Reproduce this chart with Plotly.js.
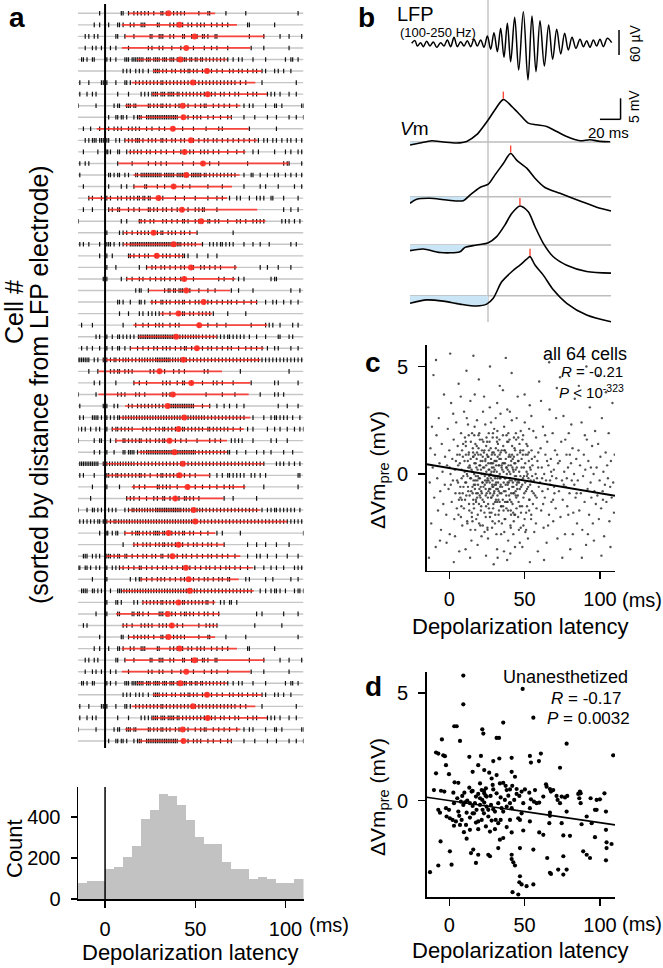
<!DOCTYPE html>
<html><head><meta charset="utf-8">
<script src="https://cdn.plot.ly/plotly-3.0.1.min.js"></script>
<style>html,body{margin:0;padding:0;background:#fff}#g{width:663px;height:968px}</style>
</head><body><div id="g"></div><script>
const FONT='"Liberation Sans", Arial, sans-serif';
const W=663,H=968;
const PX=v=>v/W, PY=v=>1-v/H;

// ---------- panel a: raster (spike latencies, ms) ----------
const spikeRows=[
[-3,9,10,13,16,18,20,22,24,27,31,32,34,38,40,42,44,52,57,58,67,78,107],
[-6,-3,2,7,8,10,14,16,20,21,22,29,30,36,38,40,43,46,48,51,53,55,59,62,65,68,79,80,94],
[-11,-9,-6,-4,6,7,11,16,25,26,30,31,32,36,38,43,44,48,51,54,55,57,61,62,80,88,97,102,109],
[-11,-7,-5,-2,3,6,13,24,26,30,32,37,42,49,55,59,62,68,81,88,102],
[-13,-12,-10,-7,-6,1,3,6,11,12,13,15,16,17,18,19,20,21,23,24,25,27,28,29,30,32,33,34,36,37,38,40,41,43,44,45,47,48,50,51,53,54,56,58,60,62,64,66,68,71,74,76,82,89,100,103,104,107],
[10,12,14,17,19,21,24,27,28,29,30,32,34,37,39,42,44,46,47,49,51,54,56,57,59,62,65,69,71,74,76,79,82,84,87,89,94,96,99,103],
[-14,-9,-2,-1,1,6,11,12,14,17,19,21,23,25,27,29,31,32,34,36,38,40,42,44,46,48,50,52,54,56,58,60,62,64,66,68,70,72,75,78,87,106],
[-14,-10,-7,-5,7,13,20,22,24,26,27,28,29,31,32,33,35,36,37,38,40,41,43,45,47,49,51,53,55,57,59,61,64,66,69,72,74,79,82,84,90,92,94,97,102,106],
[-15,-5,5,7,8,12,13,14,16,17,24,25,27,29,31,32,34,36,39,41,44,46,50,53,55,56,60,63,66,69,73,77,80,82,89,94,95,98,109,110],
[2,6,7,9,10,12,16,18,19,20,23,24,25,26,27,28,29,30,31,32,33,34,35,36,37,38,39,40,43,46,49,51,53,57,60,64,68,70,77,83,90,95,102,106,110],
[-12,-8,-3,2,5,7,9,13,15,17,19,23,26,30,33,38,43,49,56,63,65,80,95],
[-11,-9,-7,-6,-5,-3,-2,-1,1,2,6,8,11,13,15,17,18,19,21,24,26,28,31,32,34,37,39,42,44,47,49,52,55,57,60,62,65,68,71,74,77,80,83,85,88,90,93,95,98,101,103,106,109],
[-12,-4,1,1.5,3,7,8,12,14,16,18,20,23,25,28,31,34,38,42,44,47,49,53,55,57,60,63,68,73,77,82,85,94,100,103,107,109],
[-14,-11,-9,7,15,24,28,31,34,43,49,54,58,63,79,99,101,102,109],
[-14,2,3,5,7,8,11,13,17,18,20,21,22,23,24,25,26,27,28,29,30,31,33,34,35,36,37,38,40,41,42,43,44,45,46,48,49,50,51,52,53,55,56,58,60,62,64,66,68,70,72,77,81,82,86,90,94,96,100,103,106,109],
[-12,2,9,12,16,22,23,29,33,38,43,47,57,65,77,86,89,96,105,109],
[-9,-7,-2,1,3,7,9,12,14,16,18,19,21,22,24,25,30,32,39,44,50,57,62,65,69,73,75,80,84,86,88,92,93,99,107],
[-12,-7,2,4,7,8,13,16,19,24,25,27,29,32,34,37,40,43,46,50,52,54,55,62,99,103,107],
[-15,9,12,19,20,22,25,27,32,34,37,40,43,44,46,50,52,54,57,58,61,63,68,73,75,78,82,84,86,88,98,100,102,105,108],
[1,8,10,12,15,18,20,22,24,27,29,31,32,35,37,39,42,44,47,51,71],
[-14,-12,-9,-3,1,2,3,5,8,10,12,14,15,16,17,18,19,20,21,22,23,24,25,26,27,28,29,30,31,32,33,34,35,36,37,38,39,40,41,42,44,46,48,50,54,58,60,62,64,65,67,69,71,77,82,86,91,103,106],
[-3,1,4,13,14,16,19,22,24,28,29,32,34,36,39,41,43,44,46,51,57,62],
[1,6,19,23,26,28,31,33,36,39,42,44,48,49,53,55,58,61,64,72,86,90,96,103],
[-1,1,9,12,15,19,21,25,28,31,33,36,39,42,44,49,63,66,71,74,77,92,94,95],
[17,19,20,24,33,35,36,38,39,41,42,43,45,47,52,57,61,70,74,82,103,108],
[7,8,10,14,19,20,22,26,28,31,32,34,36,39,41,43,44,47,50,52,55,57,59,62,65,68,70,73,77,81,84,89,93,95,99,103,107],
[8,13,19,21,24,26,28,30,32,36,41,43,44,47,49,52,54,56,58,60,68,78],
[-13,-7,10,17,21,24,28,30,32,36,39,41,52,57,62,67,81,89,91,93,97,104,107],
[-5,-3,1,4,7,8,10,12,14,16,18.5,19.5,20.5,21.5,22.5,23.5,24.5,25.5,26.5,27.5,28.5,29.5,30.5,31.5,32.5,33.5,34.5,35.5,36.5,37.5,38.5,40,41.5,43,44.5,46,47.5,49,50.5,52,54,56,58,60,62,64,66,68,69,71,73,75,77,80,84,89,96,97,102,104],
[-13,-10,-7,-3,1,4,7,8,11,14,18,21,24,27,29,32,34,36,39,42,44,45,48,51,54,57,59,62,65,68,70,74,78,81,84,87,90,94,96,103,107],
[-15,-14,-13,-12,-11,-10,-9,-6,-4,-1,1,3,5,6,8,10,11.5,13,15,17,19,20.5,22,23.5,25,26.5,28,29,30,31,32,33,34,35,36,37.5,39,40.5,42,43.5,45,47,49,51,53,55,57,59,61,63,65,67,69,71,73,75,77,79,81,83,85,87,89,91,93,95,97,99,101,103,105,107,109],
[-9,-4,3,5,7,8,11,13,15,25,27,30,33,38,41,44,55,57,75,102],
[-6,-3,6,16,19,23,32,34,36,40,43,44,48,54,60,62,65,71,81,94,96,107],
[-15,-5,7,9,11,17,19,22,32,34,36,38,56,65,72,86,94,96,99],
[-14,-1,0,1,5,7,13,15,18,20,22,24,26,28,30,32,35,36,37,38,39,40,41,42,43,44,45,46,47,48,49,54,58,62,66,69,73,77,96,101,107],
[-14,-12,-7,-6,-5,-4,-2,0,1,3,5,7,8,10,11.5,13,14.5,16,17.5,19,20.5,22,23.5,25,26.5,28,29.5,31,32.5,34,35.5,37,38.5,40,41.5,43,44.5,46,47.5,49,50.5,52,53.5,55,57,59,61,63,65,67,69,71,73,75,77,82,88,92,94,95,97,99,101,104,108],
[-15,-13,-11,-8,-5,-3,1,4,6,7,9,11,13,15,21,23,25,28,30,32,33,35,37,39,41,43,44,46,48,50,52,54,57,58,60,62,64,66,68,71,75,79,82,90,94,97,101,105,108,110],
[-15,-6,-3,-2,3,6,10,11,13,15,17,19,20,23,25,28,30,32,33,36,39,42,45,51,58,61,64,70,72,74,76,82,92,95,101],
[-6,-3,1,5,10,11,13,14,15,16,18,20,21.5,23,24,25,26,27,28,29,30,31,32,33,34,35,36,37,38,39,40,41,42,43,44,45,46,47,48,49,50,52,54,56,58,60,62,64,66,68,69,73,78,84,88,92,99,104],
[-14,-13,-12,-11,-10,-9,-8,-7,-6,-5,-4,-1,1,2.5,4,5.5,7,8.5,10,11.5,13,14.5,16,18,20,22,24,26,28,30,32,34,36,38,40,42,44,46,48,50,52,54,56,58,60,62,64,66,68,70,72,74,76,78,80,82,84,86,88,95,97,99,102,105,108],
[-14,-12,-6,1,2,4,6,7,9,11,13,15,17,19,20,22,25,29,31,32,34,36,38,40,41,44,47,50,58,62,65,68,69,71,73,75,77,81,83,86,89,107,108],
[-7,1,8,16,19,22,29,30,32,34,36,40,46,50,54,58,62,66,69,71,77,88,107],
[-8,12,14,16,19,23,27,29,32,33,36,39,41,44,45,47,49,52,66,71,84],
[-15,-10,-7,-6,-4,-2,0,2,4,6,11,13,15,16,17.5,19,20.5,22,23.5,25,26.5,28,29,30,31,32,33,34,35,36,37,38,39,40,41,42,43.5,45,46.5,48,49.5,51,52.5,54,56,58,60,62,64,66,68,70,72,74,76,78,80,82,84,87,90,92,94,95,97,99,101,103,105,108],
[-14,-12,-10,-8,-6,-4,-3,-1,1,3,5,6,7.5,9,10.5,12,13.5,15,16.5,18,19.5,21,22.5,24,25.5,27,28.5,30,31.5,33,34.5,36,37.5,39,40.5,42,43.5,45,46.5,48,49.5,51,53,55,57,59,61,63,65,67,69,71,73,75,77,79,81,83,85,87,89,91,93,95,97,99,101,103,105,107,109],
[-3,1,1.5,4,6,7,11,15,17,18,19,21,23,25,27,28,29,30,32,33,35,37,39,41,43,44,47,49,53,57,62,65,75,110],
[10,16,18,21,23,25,28,30,32,33,35,37,39,41,43,46,49,51,54,57,59,62,66,79,84,89,95,102],
[-12,-11,-10,-7,-5,-3,1,2,3,5,7,8,11,12,15,18,21,23,26,28,31,32,35,37,40,43,45,48,51,54,57,59,62,65,68,72,79,84,86,90,95,101,107],
[-15,-14,-11,-10,-8,-5,-3,1,4,6,8,10,13,16,19,20,23,26,29,32,34,37,40,43,45,47,50,53,56,58,61,64,67,69,72,75,79,83,88,92,95,99,105,107,109],
[-7,1,14,17,19,20,23,26,29,31,33,36,39,42,44,47,49,52,55,57,60,63,65,68,69,78,80,89,93,103,107],
[-13,-12,-11,-10,-7,-6,-4,-2,3,7,8,9,10.5,12,13.5,15,16.5,18,19.5,21,22.5,24,25.5,27,28.5,30,31.5,33,34.5,36,37.5,39,40.5,42,43.5,45,46.5,48,49.5,51,53,55,57,59,61,63,65,67,69,71,73,75,77,79,81,86,89,92,94,95,97,100,105,107,108,110],
[1,6,7,9,16,18,21,23,25,27,29,31,32,34,36,38,41,43,44,46,48,50,52,54,56,57,60,64,66,69,70,73],
[-5,1,7,8,15,16,18,19,21,24,30,31,32,34,37,39,42,44,45,47,49,52,55,57,60,63,84,87,99,107],
[-12,-10,10,12,15,20,22,24,26,30,32,34,37,40,43,52,56,58,60,62,83,98]
];
const redStart=[13,9.3,11,9.3,17.6,26.5,14.8,25.9,11.1,18.5,-4.6,11.1,13,7.4,15.7,15.7,-9.3,1.9,18.5,10.2,10.2,13,23.1,11.7,24.1,25,30.6,15.7,18.5,13.9,-0.9,-3.7,15.7,-3.7,11.1,8.3,3.7,5.6,18.5,-0.9,0.9,14.8,12,13,0.9,10.6,15.4,0.6,8,19.4,9.3,20.4,6.1,9.3];
const redEnd=[61,73.1,88.5,80.6,67.6,87,83.3,89.8,75,70.4,79.6,84.3,77.8,101.9,74.6,70.4,67.6,84.3,88.9,50.9,53.7,43.5,73.1,72.2,69.4,84.3,59.3,89.8,62,87.9,86.1,64.8,80.6,79.6,58.3,80.6,76.9,67.6,67.6,87.9,58.3,77.8,65.7,86.1,100.9,61.1,66.1,75,81.9,74.1,82.4,61.1,63.5,62.4];
const redDot=[35.2,41.3,49.6,45,41.7,56.5,48.7,56.9,43,43.5,37.6,47.6,44.1,54.3,45,38,29.6,42.6,53.3,26.9,38,28.7,47.6,43.9,45,54.6,40.7,52.2,39.4,50.9,43.5,30.2,47.8,37.6,34.6,43.9,40.7,35.7,38.5,43.1,41.3,45.7,38.9,49.1,50,35.2,40.7,37.4,44.8,46.3,46.9,40.7,34.8,37];
// cells 55-64 in the figure repeat cells 1-10
const repeatOf=[0,1,2,3,4,5,6,7,8,9];
const rasterRows=spikeRows.concat(repeatOf.map(i=>spikeRows[i]));
const rStart=redStart.concat(repeatOf.map(i=>redStart[i]));
const rEnd=redEnd.concat(repeatOf.map(i=>redEnd[i]));
const rDot=redDot.concat(repeatOf.map(i=>redDot[i]));

// ---------- panel a: histogram ----------
const histBinStart=[-15,-10,-5,0,5,10,15,20,25,30,35,40,45,50,55,60,65,70,75,80,85,90,95,100,105];
const histCount=[78,88,86,144,154,203,258,392,434,514,501,460,387,300,267,267,181,147,147,96,109,96,80,80,99];

// ---------- panel b ----------
const lfpT=[-74.1,-70.9,-68.6,-65.4,-62.8,-59.5,-56.3,-53.1,-49.8,-46,-42.7,-39.5,-36.2,-33,-29.8,-26.5,-23.3,-20.1,-16.8,-13.6,-10.4,-7.1,-3.9,-0.6,2.6,5.8,9.1,12.3,15.5,18.8,22,25.9,29.8,34.3,38.8,42.7,46.6,50.5,54.7,58.9,62.8,66.7,70.6,74.4,78,81.6,85.4,89.3,92.6,95.8,99,102.3,105.5,108.7,112,115.9,120.1];
const lfpV=[0,6.4,-6.4,1.6,-8,4.8,-6.4,3.2,-9.6,1.6,-6.4,8,-8,14.4,-8,4,-6.4,6.4,-8,9.6,-6.4,8,-9.6,17.6,-14.4,25.6,-20,36,-33.6,48,-44,62.4,-64,76,-88,65.6,-68,54.4,-54.4,44,-38.4,33.6,-25.6,24,-16,14.4,-12,9.6,-8,6.4,-9.6,8,-6.4,9.6,-8,12,1.6];
const vmT=[
[-75.7,-66,-54.7,-43.4,-30.4,-20.7,-11,-4.5,0.3,6.8,14.9,23,31,39.1,47.3,57,66.7,76.4,89.3,99,108.7,118.4],
[-75.7,-69.2,-56.3,-40.1,-24,-17.5,-7.8,0.3,6.8,14.9,22,27.8,37.6,45.6,55.3,69.9,89.3,105.5,119.4],
[-75.7,-62.8,-46.6,-27.2,-22.3,-11,0.3,8.4,16.5,23,31,39.1,45.6,53.7,63.4,76.4,95.8,119.4],
[-75.7,-59.5,-43.4,-27.2,-11,-1.3,5.1,13.3,23,31,37.6,40.8,45.6,53.7,63.4,76.4,95.8,119.4]];
const vmV=[
[-0.7,-0.24,0.31,0,-0.24,0.14,1.74,3.7,5.3,7.7,10.1,8.5,6.5,4.5,4.1,3.7,2.5,1.3,0.3,0.55,0.14,0.07],
[-1.57,-0.62,-0.38,-0.79,-0.95,0.4,2.2,3,5.2,7.9,10.3,8.7,6.8,4.4,2.2,0.8,-1.0,-2.5,-3.4],
[-1.35,-0.95,-1.8,-1.6,-0.56,0,0.56,2,4.8,7.5,9.3,7.9,4.4,0.4,-2.8,-4.8,-6.3,-6.7],
[-1.8,-1.0,-1.3,-2.0,-2.45,-2.0,-0.63,3.3,5.7,7.3,8.7,9.3,7.3,4.9,1.4,-1.8,-4.6,-6.2]];
const vmPeakT=[14.9,22,31,40.8];
const vmPeakV=[10.1,10.3,9.3,9.3];

// ---------- panel c: all 64 cells ----------
const cPoints=[[-14,3.1],[-13,-0.4],[-12.5,1.2],[-12,-2.3],[-11,0.3],[-10.5,4.6],[-10,-1.1],[-9.5,0.9],[-9,-3.4],[-8.5,1.8],[-8,-0.2],[-7.5,-1.7],[-7,2.6],[-6.5,0.5],[-6,-0.8],[-5.5,-2.6],[-5,1.4],[-4.5,0.1],[-4,-1.4],[-3.5,3.7],[-3,-0.5],[-2.8,0.8],[-13.5,-3.9],[-11.5,2.2],[-8.8,5.3],[-6.2,-3.1],
[-2,-1.9],[-1.5,0.4],[-1,2.1],[-0.5,-0.7],[0,1.1],[0.3,-2.8],[0.8,0],[1.2,3.3],[1.6,-1.3],[2,0.7],[2.4,-0.3],[2.9,1.6],[3.3,-2.1],[3.7,0.2],[4.1,-0.9],[4.6,2.4],[5,-1.6],[5.3,0.9],[5.8,-0.4],[6.2,4.2],[6.6,-3.6],[7,0.5],[7.4,-1.1],[7.8,1.9],[8.2,-0.2],[8.6,-2.4],[9,0.8],[9.4,-0.6],[9.8,2.9],[0.6,5.6],[3,-4.1],[5.6,1.3],[8,-1.5],[1,-0.5],[4.4,0.6],[6.8,-0.9],[2.6,2.8],[9.2,1.4],[-1.8,-3.2],[7.6,3.6],[3.8,-2.9],[0.2,0.3],
[10.2,0.1],[10.5,-1.2],[10.9,1.5],[11.2,-0.4],[11.6,2.6],[11.9,-2.2],[12.3,0.6],[12.6,-0.8],[13,1],[13.3,-1.7],[13.7,0.3],[14,3.4],[14.4,-0.2],[14.7,-3.1],[15.1,1.9],[15.4,-0.6],[15.8,0.8],[16.1,-1.4],[16.5,0],[16.8,2.2],[17.2,-2.6],[17.5,0.5],[17.9,-0.9],[18.2,1.3],[18.6,-0.3],[18.9,-1.9],[19.3,0.9],[19.6,4.4],[20,-0.7],[20.3,1.6],[20.7,-1.1],[21,0.2],[21.4,-2.9],[21.7,1.1],[22.1,-0.4],[22.4,2.9],[10.8,-3.5],[11.4,4.8],[12.1,-0.1],[12.9,1.8],[13.5,-1],[14.2,0.7],[15,-2],[15.6,1.2],[16.3,-0.5],[17,0.9],[17.7,-1.2],[18.4,2.5],[19,-0.1],[19.8,-2.3],[20.5,0.4],[21.2,-1.5],[22,0.6],[13.8,-3.9],[16.9,3.7],[18.8,-3.3],[21.6,-0.9],[11,0.9],[14.8,0.2],[17.3,-0.3],[19.4,1.8],[20.9,-0.6],[12.4,2.3],[16,5.5],[22.2,-2.4],
[22.7,0],[23,-1.3],[23.3,1.1],[23.6,-0.5],[23.9,2.3],[24.2,-2],[24.5,0.4],[24.8,-0.9],[25.1,1.5],[25.4,-0.2],[25.7,-3],[26,0.8],[26.3,-1.6],[26.6,0.2],[26.9,3.1],[27.2,-0.7],[27.5,1.2],[27.8,-1.1],[28.1,0.5],[28.4,-2.5],[28.7,-0.3],[29,1.9],[29.3,-1.4],[29.6,0.1],[29.9,-0.8],[30.2,0.9],[30.5,-1.9],[30.8,2.6],[31.1,-0.4],[31.4,0.6],[31.7,-3.5],[32,-1],[32.3,1.4],[32.6,-0.1],[32.9,-2.2],[33.2,0.7],[33.5,4.1],[33.8,-0.6],[34.1,1],[34.4,-1.5],[34.7,0.3],[23.1,3.6],[23.8,-0.3],[24.4,-3.8],[25,0.9],[25.6,-1.1],[26.2,1.9],[26.8,-0.4],[27.4,0],[28,-1.8],[28.6,1],[29.2,-0.6],[29.8,2.1],[30.4,-0.2],[31,-1.2],[31.6,1.7],[32.2,-0.7],[32.8,0.4],[33.4,-1.3],[34,2.8],[34.6,-0.9],[24,0.7],[25.3,-2.5],[26.5,-0.1],[27.7,2.4],[28.9,-1],[30,-0.5],[31.3,-2.8],[32.5,1.1],[33.7,-0.2],[34.9,-2.3],[27,5],[29.5,-4.2],[31.8,3.3],[24.7,1.7],[33,-1.7],[26,-0.8],[28.3,0.3],[30.7,0.6],[32.1,-3.9],
[35.2,0.2],[35.5,-1.2],[35.8,1.3],[36.1,-0.4],[36.4,2.2],[36.7,-2.1],[37,0.5],[37.3,-0.8],[37.6,1],[37.9,-1.6],[38.2,0],[38.5,3],[38.8,-0.5],[39.1,-3.1],[39.4,0.8],[39.7,-1],[40,1.6],[40.3,-0.2],[40.6,-2.4],[40.9,0.4],[41.2,-1.3],[41.5,2.5],[41.8,-0.6],[42.1,0.7],[42.4,-1.8],[42.7,0.1],[43,-0.9],[43.3,1.2],[43.6,-3.4],[43.9,-0.3],[44.2,1.9],[44.5,-1.1],[44.8,0.3],[45.1,-0.7],[45.4,3.6],[45.7,-2],[46,0.6],[46.3,-0.4],[46.6,1.4],[46.9,-1.5],[47.2,-0.1],[35.6,3.9],[36.3,-3.6],[37.2,-0.2],[38,1.8],[38.7,-1.3],[39.5,-0.4],[40.2,2.9],[41,-0.9],[41.7,0.9],[42.5,-2.8],[43.2,0.5],[44,-0.8],[44.7,2.6],[45.5,-1],[46.2,-2.6],[47,1],[36,-1.7],[37.8,0.3],[39.2,1.5],[40.8,-1.7],[42.2,-0.4],[43.7,-1.9],[45.2,0.9],[46.8,-3.2],[38.4,-4],[41.4,4.7],[44.4,-0.1],[36.8,1.1],[39.8,0.1],[42.9,1.7],[45.9,-0.3],[47.4,2],[40.5,-3.7],[37.5,5.4],
[47.7,-0.6],[48,0.7],[48.3,-1.5],[48.6,1.6],[48.9,-0.2],[49.2,-2.4],[49.5,0.3],[49.8,-0.9],[50.1,2.4],[50.4,-0.4],[50.7,0.9],[51,-1.8],[51.3,0.1],[51.6,-0.7],[51.9,1.3],[52.2,-3],[52.5,-0.2],[52.8,0.6],[53.1,-1.2],[53.4,3.2],[53.7,-0.5],[54,0.2],[54.3,-2.1],[54.6,1.1],[54.9,-0.8],[55.2,0.4],[55.5,-1.4],[55.8,2],[56.1,-0.3],[56.4,-2.7],[56.7,0.8],[57,-1],[57.3,0],[57.6,1.7],[57.9,-1.6],[58.2,-0.2],[58.5,0.6],[58.8,-3.6],[59.1,1],[59.4,-0.6],[59.7,4.3],[48.5,-3.4],[50,3.7],[51.5,-0.1],[53,-1.7],[54.5,2.7],[56,-0.9],[57.5,-2.3],[59,0.3],[49,1.1],[52,0.9],[55,-0.1],[58,-1.1],[50.5,-2.7],[53.5,-4.1],
[60.2,-0.4],[60.6,1.2],[61,-1.7],[61.4,0.3],[61.8,-0.8],[62.2,2.2],[62.6,-2.5],[63,0],[63.4,-1.1],[63.8,0.9],[64.2,-0.3],[64.6,-3.2],[65,1.5],[65.4,-0.7],[65.8,0.4],[66.2,-1.9],[66.6,3],[67,-0.5],[67.4,0.7],[67.8,-1.3],[68.2,-0.1],[68.6,1.9],[69,-2.2],[69.4,0.2],[69.8,-0.9],[70.2,1.1],[70.6,-1.6],[71,-0.2],[71.4,4],[71.8,-3],[72.2,0.5],[60.9,3.4],[62.9,-4],[64.9,0.6],[66.9,-0.3],[68.9,-1.2],[70.9,2.6],[61.6,-0.2],[63.6,1.8],[65.6,-2.4],[67.6,0.1],[69.6,-0.6],[71.6,0.9],[62.3,-1.4],[66.3,5.2],
[72.8,-0.8],[73.3,0.6],[73.8,-2],[74.3,1.5],[74.8,-0.3],[75.3,-1.2],[75.8,2.7],[76.3,0.1],[76.8,-2.8],[77.3,-0.6],[77.8,0.9],[78.3,-1.5],[78.8,0.3],[79.3,1.9],[79.8,-0.9],[80.3,-3.5],[80.8,0.5],[81.3,-0.3],[81.8,1.2],[82.3,-1.8],[82.8,0],[83.3,3.5],[83.8,-1.1],[84.3,0.7],[84.8,-2.3],[73.5,4.5],[75,-3.9],[77,1.6],[79,-1.9],[81,2.3],[83,-0.5],[84.5,-0.9],[76,-0.5],[78,-0.2],[80,0.9],[82,-2.8],
[85.3,-0.3],[85.8,1.1],[86.3,-1.7],[86.8,0.4],[87.3,-0.9],[87.8,2.4],[88.3,-2.6],[88.8,-0.1],[89.3,0.9],[89.8,-1.3],[90.3,0.2],[90.8,-3.3],[91.3,1.6],[91.8,-0.7],[92.3,0.6],[92.8,-1.9],[93.3,3.1],[93.8,-0.4],[94.3,-1.1],[94.8,1.3],[95.3,-2.3],[95.8,0],[96.3,-0.8],[96.8,2],[97.3,-1.4],[86,4.1],[88,-3.9],[90,1.8],[92,-2.8],[94,0.3],[96,-3.1],[91,5],
[97.8,0.3],[98.3,-1],[98.8,1.4],[99.3,-2.1],[99.8,-0.3],[100.3,0.8],[100.8,-1.6],[101.3,2.6],[101.8,-0.8],[102.3,0.1],[102.8,-2.9],[103.3,-0.5],[103.8,1],[104.3,-1.3],[104.8,0.4],[105.3,-0.2],[105.8,1.9],[106.3,-2.2],[106.8,-0.6],[107.3,0.6],[107.8,-1.1],[108.3,3.3],[108.8,-0.4],[109.3,-1.8],[109.8,0.9],[99,4.6],[101,-3.8],[104,3.8],[107,-3.4],[102,-1.2]];
// denser core of the cloud (latency ~5-55 ms, ΔVm ~ -2.5..1.5 mV)
const cCorePoints=[[5.2,-0.3],[5.9,0.4],[6.4,-1.2],[6.9,0.9],[7.3,-0.6],[7.7,-2],[8.1,0.2],[8.5,1.1],[8.9,-0.9],[9.3,-0.1],[9.7,-1.6],[10.1,0.6],[10.6,-0.4],[11,1.3],[11.3,-1],[11.7,0],[12,-2.3],[12.4,-0.6],[12.8,0.9],[13.1,-1.4],[13.5,0.4],[13.9,-0.2],[14.3,1.5],[14.6,-0.8],[14.9,-1.8],[6.1,-1.9],[8.3,-1.2],[10.4,1.7],[12.6,0.3],[14.1,-2.6],
[15.2,0.1],[15.5,-0.9],[15.8,1],[16.1,-0.3],[16.4,-1.6],[16.7,0.5],[17,-0.7],[17.3,1.4],[17.6,-0.1],[17.9,-2.1],[18.2,0.7],[18.5,-1.1],[18.8,0.2],[19.1,-0.5],[19.4,1.2],[19.7,-1.4],[20,0.4],[20.3,-0.2],[20.6,-2.4],[20.9,0.9],[21.2,-0.8],[21.5,0],[21.8,1.6],[22.1,-1.2],[22.4,0.3],[22.7,-0.6],[23,1],[23.3,-1.8],[23.6,-0.1],[23.9,0.6],[24.2,-1],[24.5,1.3],[24.8,-0.4],[15.4,-2.2],[16.6,1.8],[17.8,-1.3],[18.9,-0.9],[19.9,1.9],[21,-1.7],[22.2,0.8],[23.4,-2.7],[24.6,0.1],[16,0.8],[17.2,-0.5],[18.4,1],[19.6,-0.2],[20.8,0.6],[22,-0.4],[23.2,0.3],[24.4,-1.5],[15.9,-1.2],[18,0.3],[20.2,-1],[22.6,1.5],[24.1,-0.7],
[25.2,-0.3],[25.5,0.8],[25.8,-1.4],[26.1,0.2],[26.4,-0.7],[26.7,1.5],[27,-2],[27.3,0.5],[27.6,-0.2],[27.9,-1.1],[28.2,0.9],[28.5,-0.5],[28.8,1.7],[29.1,-1.6],[29.4,0.3],[29.7,-0.9],[30,0.6],[30.3,-2.3],[30.6,-0.1],[30.9,1.2],[31.2,-0.7],[31.5,0.1],[31.8,-1.3],[32.1,0.8],[32.4,-0.4],[32.7,-1.9],[33,0.4],[33.3,1.6],[33.6,-0.9],[33.9,-0.2],[34.2,0.7],[34.5,-1.5],[34.8,1.1],[25.4,-2.6],[26.3,1.1],[27.1,-0.9],[28,0.1],[28.7,-2.2],[29.5,1],[30.4,-1.3],[31.1,0.4],[31.9,2],[32.8,-0.8],[33.5,0],[34.4,-2.8],[25.9,0.5],[26.8,-1.8],[27.7,0.7],[28.6,-0.6],[29.3,-0.1],[30.2,0.2],[31,-0.5],[31.7,1.5],[32.6,-1.2],[33.4,0.9],[34.1,-0.5],[26,-0.3],[29,0.5],[32,-0.2],[34.7,0.4],
[35.1,-0.6],[35.4,0.5],[35.7,-1.5],[36,0.1],[36.3,-0.8],[36.6,1.1],[36.9,-0.2],[37.2,-2.1],[37.5,0.7],[37.8,-1],[38.1,0.3],[38.4,1.5],[38.7,-0.4],[39,-1.7],[39.3,0.4],[39.6,-0.7],[39.9,0.9],[40.2,-1.2],[40.5,0],[40.8,-2.5],[41.1,0.6],[41.4,-0.3],[41.7,1.3],[42,-1.4],[42.3,0.2],[42.6,-0.6],[42.9,0.8],[43.2,-1.9],[43.5,-0.1],[43.8,0.5],[44.1,-1],[44.4,1.6],[44.7,-0.5],[35.6,1.8],[36.5,-2.7],[37.4,-0.5],[38.3,-1.3],[39.2,1.9],[40.1,-0.3],[41,-1.9],[41.9,0.3],[42.8,-2.2],[43.7,1.1],[44.6,-1.6],[36.2,0.5],[38.8,0.2],[40.6,0.8],[42.4,-0.9],[44,0.2],[37,-1.3],
[45.2,-0.4],[45.6,0.6],[46,-1.3],[46.4,0.1],[46.8,-0.7],[47.2,1.1],[47.6,-1.8],[48,0.3],[48.4,-0.5],[48.8,0.9],[49.2,-1.1],[49.6,-0.1],[50,-2.1],[50.4,0.5],[50.8,-0.8],[51.2,1.4],[51.6,-1.5],[52,0],[52.4,-0.6],[52.8,1],[53.2,-1.2],[53.6,0.3],[54,-0.3],[54.4,-1.9],[54.8,0.7],[45.8,1.7],[47.4,-2.5],[49,1.8],[51,-2.6],[53,2.1]];
const cFitX=[-15,110], cFitY=[0.45,-1.01];

// ---------- panel d: unanesthetized ----------
const dPoints=[[9.3,5.82],[9.3,4.48],[48.7,5.2],[55.8,3.86],[35.8,3.63],[3.3,3.46],[4.9,3.46],[21.9,3.32],[22.6,3.12],[31.4,2.92],[33,2.92],[7.1,2.78],[-4.9,2.85],[-8.8,2.24],[-7.3,2.19],[-4,2.11],[-2.9,2.07],[77.9,2.65],[108.8,2.11],[60.8,2.19],[53.5,2.08],[41.4,1.99],[13.3,2.04],[21,2.08],[29.2,1.84],[33.2,1.96],[54.2,1.77],[59.5,1.84],[73.5,1.53],[-2.2,1.65],[-8.8,1.27],[-0.2,1.23],[6,0.83],[3.5,0.85],[15.5,1.34],[19.2,1.65],[23.2,1.42],[26.5,1.3],[28.1,1.03],[31.4,1.19],[33.6,0.8],[35.8,0.83],[37.4,0.69],[41.4,1.34],[43.6,1.11],[41.8,0.69],[44.7,0.54],[40.3,0.52],[39.2,0.23],[34.1,0.15],[31.4,0.34],[29.2,0.52],[24.3,0.57],[23,0.45],[21.5,0.49],[23.2,0.34],[24.1,0.23],[19.2,0.31],[17.7,0.19],[15.5,0.45],[13.3,0.6],[10,0.37],[8.6,0.22],[7.7,-0.05],[5.3,0.11],[2.7,0.37],[-3.3,0.42],[-5.5,0.46],[-10.2,0.49],[-7.3,-0.43],[-6.2,-0.56],[-2.2,-0.35],[-0.2,-0.43],[0.4,-0.82],[2.2,-0.9],[6,-0.51],[6.6,-0.71],[9.3,-0.2],[10.4,-0.08],[11.9,0],[13.7,-0.12],[15.5,-0.25],[16.4,-0.59],[18.1,-0.43],[20.4,-0.2],[21.9,0.03],[23.2,-0.09],[24.8,-0.28],[25.9,-0.43],[27.7,-0.2],[29.2,-0.4],[30.3,-0.51],[30.8,-0.9],[28.1,-0.93],[25.9,-0.74],[23,-0.59],[21.5,-0.9],[19.2,-0.97],[17.7,-1.02],[15.5,-0.59],[13.7,-0.79],[11.5,-0.56],[8.2,-0.9],[4.4,-0.97],[11.1,-1.13],[13.7,-1.36],[19.2,-1.33],[24.3,-1.2],[27,-1.44],[30.3,-1.33],[32.5,-1.05],[34.1,-0.9],[35.8,-0.51],[38.1,-0.28],[40.3,-0.12],[41.4,-0.35],[43.1,0.03],[44.7,0.31],[46.5,0.22],[48,0.42],[50.2,0.52],[53.1,0.37],[54.2,0.06],[56.2,-0.05],[58,-0.12],[59.7,-0.09],[62.4,0.19],[64.2,0.76],[66.8,0.54],[67.5,0.42],[69,0.49],[71.2,0.22],[71.9,0.03],[73.5,-0.12],[74.6,0.19],[76.8,0.15],[78.3,0.22],[85.6,0.31],[86.3,0.11],[87.2,0.34],[87.2,-0.12],[93.8,0.11],[96.7,-0.43],[97.8,-0.43],[100,0.06],[104,-0.51],[66.8,-0.56],[66.8,-0.71],[53.5,-0.35],[49.1,-0.12],[48,-0.59],[45.8,-0.82],[40.3,-0.9],[38.1,-1.23],[41.4,-1.48],[35.8,-1.74],[33.6,-1.82],[46.9,-0.9],[49.1,-1.39],[53.5,-0.97],[59.7,-1.48],[62.4,-1.59],[66.4,-1.05],[74.6,-1.05],[75.7,-1.62],[80.1,-1.64],[87.8,-1.1],[94.5,-1.05],[96.7,-1.7],[104,-1.36],[104.4,-1.94],[107.7,-2.02],[104.4,-2.21],[104,-2.78],[88.9,-2.36],[91.2,-2.52],[93.4,-2.67],[75.7,-2.59],[72.3,-3.21],[66.8,-3.36],[67.5,-3.41],[65,-2.67],[55.8,-2.28],[46.9,-2.21],[41.4,-2.52],[41.4,-2.72],[42.5,-2.87],[43.6,-3.02],[32.5,-2.21],[27,-2.59],[25.9,-2.52],[19.2,-2.52],[15.9,-2.28],[17.7,-2.9],[14.4,-2.44],[11.5,-1.77],[9.7,-1.47],[7.1,-1.13],[3.1,-1.17],[0.4,-2.36],[-5.8,-1.9],[1.5,-2.98],[-7.3,-3.02],[-12.8,-3.33],[46.9,-3.52],[46.5,-3.8],[48,-3.9],[51.3,-3.98],[55.8,-3.9],[42,-4.26],[45.8,-4.37],[75.7,-3.44],[77.9,-3.21],[14.8,0.42],[24.8,0.19],[27.4,0.22],[32.5,-0.12],[34.7,-0.35],[36.9,0.03],[20.4,0.11],[17,-0.12],[3.1,-0.12],[-1.8,-0.74],[20.4,0.8],[28.8,0.73],[38.1,0.49],[56.9,0.49],[64.6,0.65],[86.7,0.42],[91.2,-0.74],[103,0.34],[97.8,0.03],[77.9,-0.51],[22.1,-0.43]];
const dFitX=[-15,110], dFitY=[0.16,-1.13];

// ================= build =================
const traces=[];
let gx=[],gy=[];
rasterRows.forEach((r,i)=>{gx.push(-15,110,null);gy.push(i+1,i+1,null);});
traces.push({type:'scatter',mode:'lines',x:gx,y:gy,xaxis:'x',yaxis:'y',line:{color:'#c6c6c6',width:1.4},hoverinfo:'skip'});
let sx=[],sy=[];
rasterRows.forEach((r,i)=>r.forEach(t=>{sx.push(t);sy.push(i+1);}));
traces.push({type:'scatter',mode:'markers',x:sx,y:sy,xaxis:'x',yaxis:'y',marker:{symbol:'line-ns',size:3.3,line:{color:'#111',width:1.2}},hoverinfo:'skip'});
let rx=[],ry=[];
rStart.forEach((s,i)=>{rx.push(s,rEnd[i],null);ry.push(i+1,i+1,null);});
traces.push({type:'scatter',mode:'lines',x:rx,y:ry,xaxis:'x',yaxis:'y',line:{color:'rgba(255,45,35,0.85)',width:1.7},hoverinfo:'skip'});
traces.push({type:'scatter',mode:'markers',x:rDot,y:rDot.map((d,i)=>i+1),xaxis:'x',yaxis:'y',marker:{color:'rgba(255,45,35,0.9)',size:6},hoverinfo:'skip'});
traces.push({type:'bar',x:histBinStart,y:histCount,width:5,offset:0,xaxis:'x2',yaxis:'y2',marker:{color:'#c2c2c2',line:{width:0}},hoverinfo:'skip'});
traces.push({type:'scatter',mode:'lines',x:lfpT,y:lfpV,xaxis:'x3',yaxis:'y3',line:{color:'#000',width:1.5,shape:'spline',smoothing:1},hoverinfo:'skip'});
const vmAxes=['y4','y5','y6','y7'];
vmT.forEach((T,k)=>{
  const V=vmV[k]; let fx=[],fy=[];
  for(let i=0;i<T.length;i++){
    if(T[i]>0){const t0=T[i-1],v0=V[i-1];const v=v0+(V[i]-v0)*(0-t0)/(T[i]-t0);fx.push(0);fy.push(Math.min(v,0));break;}
    if(i>0&&(V[i-1]<0)!==(V[i]<0)){const tz=T[i-1]+(T[i]-T[i-1])*(-V[i-1])/(V[i]-V[i-1]);fx.push(tz);fy.push(0);}
    fx.push(T[i]);fy.push(Math.min(V[i],0));
  }
  traces.push({type:'scatter',mode:'lines',x:fx,y:fy,xaxis:'x3',yaxis:vmAxes[k],fill:'tozeroy',fillcolor:'#c9e5f6',line:{width:0,shape:'spline',smoothing:0.8},hoverinfo:'skip'});
  traces.push({type:'scatter',mode:'lines',x:T,y:V,xaxis:'x3',yaxis:vmAxes[k],line:{color:'#000',width:1.6,shape:'spline',smoothing:0.8},hoverinfo:'skip'});
  traces.push({type:'scatter',mode:'lines',x:[vmPeakT[k],vmPeakT[k]],y:[vmPeakV[k]+0.15,vmPeakV[k]+1.9],xaxis:'x3',yaxis:vmAxes[k],line:{color:'#ff4a3a',width:1.4},hoverinfo:'skip'});
});
const cAll=cPoints.concat(cCorePoints);
traces.push({type:'scatter',mode:'markers',x:cAll.map(p=>p[0]),y:cAll.map(p=>p[1]),xaxis:'x4',yaxis:'y8',marker:{color:'#333',size:2.4,opacity:0.85},hoverinfo:'skip'});
traces.push({type:'scatter',mode:'lines',x:cFitX,y:cFitY,xaxis:'x4',yaxis:'y8',line:{color:'#000',width:2},hoverinfo:'skip'});
traces.push({type:'scatter',mode:'markers',x:dPoints.map(p=>p[0]),y:dPoints.map(p=>p[1]),xaxis:'x5',yaxis:'y9',marker:{color:'#000',size:4.2},hoverinfo:'skip'});
traces.push({type:'scatter',mode:'lines',x:dFitX,y:dFitY,xaxis:'x5',yaxis:'y9',line:{color:'#000',width:1.6},hoverinfo:'skip'});

const hidden={visible:false,showgrid:false,zeroline:false,fixedrange:true};
const tf={family:FONT,size:20,color:'#000'};
const shownX=(dom,anchor,st)=>({domain:dom,anchor:anchor,range:[-15,110],showline:true,linecolor:'#000',linewidth:1.5,ticks:'outside',ticklen:7,tickwidth:1.5,tickcolor:'#000',tickvals:[0,50,100],tickfont:tf,showgrid:false,zeroline:false,ticklabelstandoff:st});
const shownY=(dom,anchor,rng,vals)=>({domain:dom,anchor:anchor,range:rng,showline:true,linecolor:'#000',linewidth:1.5,ticks:'outside',ticklen:7,tickwidth:1.5,tickcolor:'#000',tickvals:vals,tickfont:tf,showgrid:false,zeroline:false,ticklabelstandoff:6});
const vmBase=[142,196.7,245,295.7];
const vmRange=[-36/4.2,55/4.2];
const layout={
  width:W,height:H,margin:{l:0,r:0,t:0,b:0},paper_bgcolor:'#fff',plot_bgcolor:'rgba(0,0,0,0)',showlegend:false,bargap:0,
  font:{family:FONT,color:'#000'},
  xaxis:Object.assign({},hidden,{domain:[PX(78),PX(303.5)],range:[-15,110],anchor:'y'}),
  yaxis:Object.assign({},hidden,{domain:[PY(750),PY(4)],range:[64.78,0.195],anchor:'x'}),
  xaxis2:shownX([PX(78),PX(303.5)],'y2',4),
  yaxis2:shownY([PY(899),PY(787)],'x2',[0,546],[0,200,400]),
  xaxis3:Object.assign({},hidden,{domain:[PX(410),PX(640)],range:[(410-488)/1.03,(640-488)/1.03],anchor:'y3'}),
  yaxis3:Object.assign({},hidden,{domain:[PY(90),PY(5)],range:[-112.1,91.9],anchor:'x3'}),
  xaxis4:shownX([PX(426.7),PX(615)],'y8',3),
  yaxis8:shownY([PY(570.7),PY(345)],'x4',[-4.5,6],[0,5]),
  xaxis5:shownX([PX(426.7),PX(615)],'y9',2),
  yaxis9:shownY([PY(897.3),PY(671.7)],'x5',[-4.5,6],[0,5]),
  shapes:[],annotations:[]
};
layout.yaxis2.ticklen=6;
vmBase.forEach((B,k)=>{
  layout['yaxis'+(4+k)]=Object.assign({},hidden,{domain:[PY(B+36),PY(B-55)],range:vmRange,anchor:'x3'});
  layout.shapes.push({type:'line',xref:'x3',yref:'y'+(4+k),x0:-75.7,x1:119.4,y0:0,y1:0,line:{color:'#bdbdbd',width:1.5},layer:'below'});
});
layout.shapes.push({type:'line',xref:'x',yref:'paper',x0:0,x1:0,y0:PY(748),y1:PY(4),line:{color:'#000',width:2}});
layout.shapes.push({type:'line',xref:'x2',yref:'paper',x0:0,x1:0,y0:PY(899),y1:PY(787),line:{color:'#000',width:1.5}});
layout.shapes.push({type:'line',xref:'x3',yref:'paper',x0:0,x1:0,y0:PY(322),y1:PY(0),line:{color:'#c4c4c4',width:1.5},layer:'below'});
layout.shapes.push({type:'line',xref:'x3',yref:'y3',x0:127.2,x1:127.2,y0:-28,y1:32,line:{color:'#000',width:1.5}});
layout.shapes.push({type:'line',xref:'x3',yref:'y4',x0:108.7,x1:128.7,y0:5.4,y1:5.4,line:{color:'#000',width:1.5}});
layout.shapes.push({type:'line',xref:'x3',yref:'y4',x0:128.7,x1:128.7,y0:5.4,y1:10.4,line:{color:'#000',width:1.5}});

function ann(text,x,y,size,o){return Object.assign({text:text,x:PX(x),y:PY(y),xref:'paper',yref:'paper',showarrow:false,xanchor:'center',yanchor:'middle',font:{family:FONT,size:size,color:'#000'}},o||{});}
const A=layout.annotations;
A.push(ann('<b>a</b>',17,18,28));
A.push(ann('<b>b</b>',366,17,28));
A.push(ann('<b>c</b>',373,362,28));
A.push(ann('<b>d</b>',373,686,28));
A.push(ann('Cell #',14,312,25,{textangle:-90}));
A.push(ann('(sorted by distance from LFP electrode)',39,385,25,{textangle:-90}));
A.push(ann('Count',14,849,22,{textangle:-90}));
A.push(ann('Depolarization latency',190,952,22));
A.push(ann('(ms)',307,925,20,{xanchor:'left'}));
A.push(ann('LFP',395,14,20,{xanchor:'left'}));
A.push(ann('(100-250 Hz)',398,32,13,{xanchor:'left'}));
A.push(ann('60 µV',635,43,14,{textangle:-90}));
A.push(ann('<i>V</i>m',398,128,19,{xanchor:'left'}));
A.push(ann('20 ms',608,132,15));
A.push(ann('5 mV',634,107,14,{textangle:-90}));
A.push(ann('all 64 cells',629,354,18,{xanchor:'right'}));
A.push(ann('<i>R</i> = -0.21',625,371,15,{xanchor:'right'}));
A.push(ann('<i>P</i> &lt; 10<sup>-323</sup>',626,391,15,{xanchor:'right',yanchor:'middle'}));
A.push(ann('ΔVm<sub>pre</sub> (mV)',379,470,21,{textangle:-90}));
A.push(ann('Depolarization latency',520,626,22));
A.push(ann('(ms)',620,600,20,{xanchor:'left'}));
A.push(ann('Unanesthetized',630,677,18,{xanchor:'right'}));
A.push(ann('<i>R</i> = -0.17',623,698,17,{xanchor:'right'}));
A.push(ann('<i>P</i> = 0.0032',632,718,17,{xanchor:'right'}));
A.push(ann('ΔVm<sub>pre</sub> (mV)',379,797,21,{textangle:-90}));
A.push(ann('Depolarization latency',520,950,22));
A.push(ann('(ms)',620,924,20,{xanchor:'left'}));

Plotly.newPlot('g',traces,layout,{staticPlot:true,displayModeBar:false});
</script></body></html>
